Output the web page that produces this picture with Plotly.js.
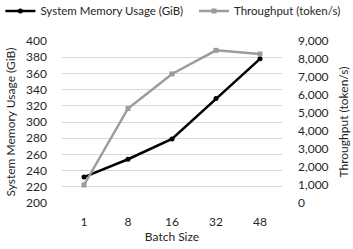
<!DOCTYPE html>
<html><head><meta charset="utf-8">
<script src="https://cdn.plot.ly/plotly-3.0.1.min.js"></script>
<style>html,body{margin:0;padding:0;background:#fff}#chart{width:353px;height:249px}</style>
</head><body><div id="chart"></div>
<script>
const batchSizes = ['1', '8', '16', '32', '48'];
const memoryGiB = [232, 254, 279, 329, 378];
const throughput = [1000, 5250, 7170, 8480, 8280];

const font = {family: 'Lato, "Open Sans", sans-serif', size: 12, color: '#262626'};
const legFont = {family: font.family, size: 11.5, color: '#262626'};
const traces = [
  {x: batchSizes, y: memoryGiB, name: 'System Memory Usage (GiB)', type: 'scatter', mode: 'lines+markers',
   line: {color: '#000000', width: 2.5}, marker: {color: '#000000', size: 5, symbol: 'circle'}, yaxis: 'y', legend: 'legend'},
  {x: batchSizes, y: throughput, name: 'Throughput (token/s)', type: 'scatter', mode: 'lines+markers',
   line: {color: '#9c9c9c', width: 2.5}, marker: {color: '#9c9c9c', size: 5, symbol: 'square'}, yaxis: 'y2', legend: 'legend2'}
];
const layout = {
  width: 353, height: 249,
  margin: {l: 62, r: 71, t: 41, b: 46},
  font: font,
  paper_bgcolor: '#fff', plot_bgcolor: '#fff',
  showlegend: true,
  legend: {orientation: 'h', x: -0.28, xanchor: 'left', yref: 'container', y: 0.956, yanchor: 'middle',
           font: legFont, itemwidth: 30, bgcolor: 'rgba(0,0,0,0)'},
  legend2: {orientation: 'h', x: 0.6, xanchor: 'left', yref: 'container', y: 0.956, yanchor: 'middle',
           font: legFont, itemwidth: 30, bgcolor: 'rgba(0,0,0,0)'},
  xaxis: {type: 'category', range: [-0.5, 4.5], showgrid: false, zeroline: false, showline: false,
          ticks: '', tickfont: font, ticklabelstandoff: 10, title: {text: 'Batch Size', font: font, standoff: 1}},
  yaxis: {range: [200, 400], dtick: 20, showgrid: true, gridcolor: '#d9d9d9', gridwidth: 1, zeroline: false,
          showline: false, ticks: '', tickfont: font, ticklabelstandoff: 14,
          title: {text: 'System Memory Usage (GiB)', font: font, standoff: 7}},
  yaxis2: {range: [0, 9000], dtick: 1000, overlaying: 'y', side: 'right', showgrid: false, zeroline: false,
           showline: false, ticks: '', tickformat: ',d', tickfont: font, ticklabelstandoff: 15,
           title: {text: 'Throughput (token/s)', font: font, standoff: 11}}
};
Plotly.newPlot('chart', traces, layout, {displayModeBar: false, staticPlot: true});
</script></body></html>
